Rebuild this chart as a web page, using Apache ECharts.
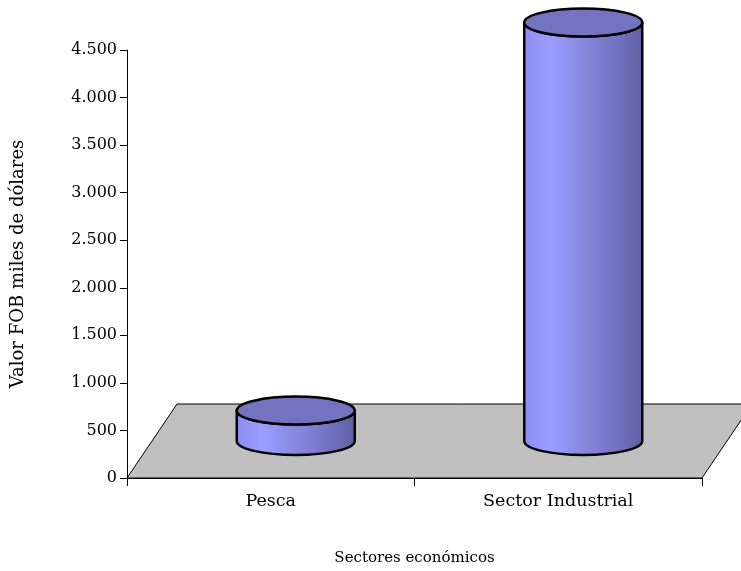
<!DOCTYPE html>
<html>
<head>
<meta charset="utf-8">
<script src="https://cdn.jsdelivr.net/npm/echarts@6/dist/echarts.min.js"></script>
<style>
html,body{margin:0;padding:0;background:#fff;overflow:hidden;}
#chart{width:741px;height:571px;position:absolute;left:0;top:0;}
</style>
</head>
<body>
<div id="chart"></div>
<script>
// Data
const categories = ['Pesca', 'Sector Industrial'];
const values = [320, 4400];
const yMin = 0, yMax = 4500, yStep = 500;
const xTitle = 'Sectores económicos';
const yTitle = 'Valor FOB miles de dólares';

// Style
const FONT = 'DejaVu Serif';
const DEPTH_X = 50, DEPTH_Y = -74;     // full floor depth offset (px)
const RX = 59, RY = 14;                // cylinder ellipse radii (px)

function fmt(v){ return String(v).replace(/\B(?=(\d{3})+(?!\d))/g, '.'); }

const chart = echarts.init(document.getElementById('chart'), null, {renderer:'canvas', width: 741, height: 571});

const option = {
  animation: false,
  backgroundColor: '#ffffff',
  grid: { left: 127, right: 39, top: 50, bottom: 89, containLabel: false },
  xAxis: {
    type: 'category',
    data: categories,
    boundaryGap: true,
    name: xTitle,
    nameLocation: 'middle',
    nameGap: 73,
    nameTextStyle: { fontFamily: FONT, fontSize: 15, color: '#000' },
    axisLine: { show: true, lineStyle: { color: '#000', width: 1 } },
    axisTick: { show: true, length: 8, alignWithLabel: false, lineStyle: { color: '#000' } },
    axisLabel: { fontFamily: FONT, fontSize: 17.5, color: '#000', margin: 14 },
    splitLine: { show: false }
  },
  yAxis: {
    type: 'value',
    min: yMin, max: yMax, interval: yStep,
    name: yTitle,
    nameLocation: 'middle',
    nameGap: 100,
    nameRotate: 90,
    nameTextStyle: { fontFamily: FONT, fontSize: 18, color: '#000' },
    axisLine: { show: true, lineStyle: { color: '#000', width: 1 } },
    axisTick: { show: true, length: 7, lineStyle: { color: '#000' } },
    axisLabel: { fontFamily: FONT, fontSize: 16, color: '#000', margin: 10, formatter: fmt },
    splitLine: { show: false }
  },
  series: [
    {
      type: 'custom',
      name: 'floor',
      silent: true,
      z: 1,
      data: [[0, 0]],
      renderItem: function (params, api) {
        const cs = params.coordSys;
        const x0 = cs.x, x1 = cs.x + cs.width, yb = cs.y + cs.height;
        return {
          type: 'polygon',
          shape: { points: [[x0, yb], [x1, yb], [x1 + DEPTH_X, yb + DEPTH_Y], [x0 + DEPTH_X, yb + DEPTH_Y]] },
          style: { fill: '#c0c0c0', stroke: '#000', lineWidth: 1 }
        };
      }
    },
    {
      type: 'custom',
      name: 'Valor FOB',
      z: 3,
      data: values.map((v, i) => [i, v]),
      encode: { x: 0, y: 1 },
      renderItem: function (params, api) {
        const idx = api.value(0), val = api.value(1);
        const top = api.coord([idx, val]);
        const base = api.coord([idx, 0]);
        const cx = top[0] + DEPTH_X / 2;
        const ty = top[1] + DEPTH_Y / 2;
        const by = base[1] + DEPTH_Y / 2;
        const l = cx - RX, r = cx + RX;
        const side = `M ${l} ${ty} L ${l} ${by} A ${RX} ${RY} 0 0 0 ${r} ${by} L ${r} ${ty} A ${RX} ${RY} 0 0 1 ${l} ${ty} Z`;
        const cap = `M ${l} ${ty} A ${RX} ${RY} 0 1 0 ${r} ${ty} A ${RX} ${RY} 0 1 0 ${l} ${ty} Z`;
        return {
          type: 'group',
          children: [
            {
              type: 'path',
              shape: { pathData: side },
              style: {
                fill: { type: 'linear', x: 0, y: 0, x2: 1, y2: 0, colorStops: [
                  { offset: 0, color: '#8c8cf0' },
                  { offset: 0.22, color: '#9c9eff' },
                  { offset: 0.5, color: '#8888e0' },
                  { offset: 0.78, color: '#7272c2' },
                  { offset: 1, color: '#5e5e9e' }
                ]},
                stroke: '#000', lineWidth: 2.5, lineJoin: 'round'
              }
            },
            {
              type: 'path',
              shape: { pathData: cap },
              style: { fill: '#7373bf', stroke: '#000', lineWidth: 2.5 }
            }
          ]
        };
      }
    }
  ]
};
chart.setOption(option);
</script>
</body>
</html>
